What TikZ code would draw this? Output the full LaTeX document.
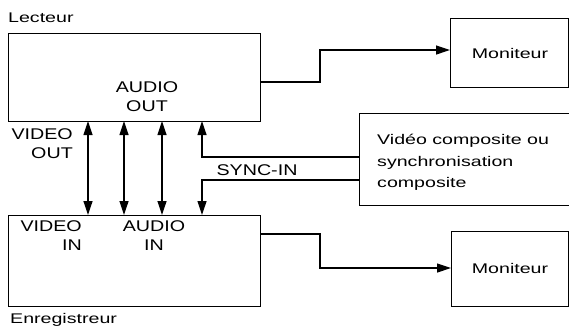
\documentclass[tikz,border=0pt]{standalone}
\usepackage{fontspec}
\setmainfont{Liberation Sans}
\usetikzlibrary{arrows.meta}
\newcommand{\lw}[1]{\scalebox{1.4}[1]{\fontsize{14}{21.5}\selectfont #1}}
\newcommand{\cw}[1]{\scalebox{1.27}[1]{\fontsize{15.5}{19}\selectfont #1}}
\tikzset{
  box/.style={draw, line width=1.2pt, inner sep=0pt},
  conn/.style={line width=1.2pt},
  arr/.style={conn, -{Triangle[length=14pt,width=9pt]}},
  darr/.style={conn, {Triangle[length=14pt,width=9pt]}-{Triangle[length=14pt,width=9pt]}},
  lbl/.style={inner sep=0pt, align=left}
}
\begin{document}
\begin{tikzpicture}[x=1pt,y=-1pt]
\useasboundingbox (0,0) rectangle (569,330);
\clip (0,0) rectangle (569,330);
% boxes
\node[box, minimum width=252pt, minimum height=88pt, anchor=north west] (lect) at (8,33) {};
\node[box, minimum width=252pt, minimum height=91pt, anchor=north west] (enr) at (8,215) {};
\node[box, minimum width=118pt, minimum height=69pt, anchor=north west] (mon1) at (450,18) {};
\node[box, minimum width=117pt, minimum height=75pt, anchor=north west] (mon2) at (451,231) {};
\node[box, minimum width=230pt, minimum height=92pt, anchor=north west] (comp) at (359,113) {};
% labels
\node[lbl, anchor=west] (tl) at (8,18) {\lw{Lecteur}};
\node[lbl, anchor=west] (te) at (10,320) {\lw{Enregistreur}};
\node[lbl] (tm1) at (510,53) {\lw{Moniteur}};
\node[lbl] (tm2) at (510,268) {\lw{Moniteur}};
\node[lbl, anchor=west] (tc) at (377,162) {\lw{\begin{tabular}{@{}l@{}}Vidéo composite ou\\synchronisation\\composite\end{tabular}}};
\node[lbl] (tao) at (147,98) {\cw{\begin{tabular}{@{}c@{}}AUDIO\\OUT\end{tabular}}};
\node[lbl, anchor=east] (tvo) at (73,145) {\cw{\begin{tabular}{@{}r@{}}VIDEO\\OUT\end{tabular}}};
\node[lbl, anchor=east] (tvi) at (82,237) {\cw{\begin{tabular}{@{}r@{}}VIDEO\\IN\end{tabular}}};
\node[lbl] (tai) at (154,237) {\cw{\begin{tabular}{@{}c@{}}AUDIO\\IN\end{tabular}}};
\node[lbl] (tsync) at (257,170) {\cw{SYNC-IN}};
% coordinates
\foreach \n/\x in {a/88,b/124,c/162}{
  \coordinate (\n1) at (\x,121);
  \coordinate (\n2) at (\x,215);
  \draw[darr] (\n1) -- (\n2);
}
\coordinate (s1) at (202,121);
\coordinate (s2) at (359,157);
\coordinate (s3) at (359,180);
\coordinate (s4) at (202,215);
\draw[arr] (s2) -- (202,157) -- (s1);
\draw[arr] (s3) -- (202,180) -- (s4);
\coordinate (o1) at (260,82);
\coordinate (o2) at (260,234);
\draw[arr] (o1) -- (320,82) -- (320,50) -- (mon1.west |- 0,50);
\draw[arr] (o2) -- (320,234) -- (320,268) -- (mon2.west |- 0,268);
\end{tikzpicture}
\end{document}
